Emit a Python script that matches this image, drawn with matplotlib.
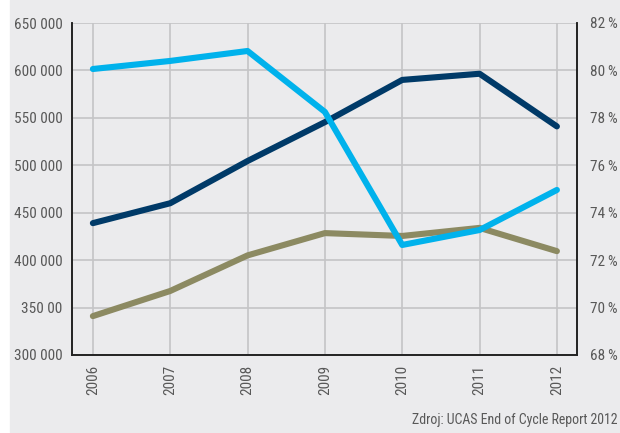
import matplotlib.pyplot as plt
from matplotlib.patches import Rectangle
from matplotlib.ticker import FixedLocator, FixedFormatter

years = [2006, 2007, 2008, 2009, 2010, 2011, 2012]
navy_vals = [439000, 460000, 504500, 545500, 590000, 596500, 541000]
olive_vals = [341000, 367500, 405000, 428500, 425500, 434000, 409500]
blue_pct = [80.06, 80.40, 80.82, 78.25, 72.64, 73.27, 74.96]

left_ticks = [300000, 350000, 400000, 450000, 500000, 550000, 600000, 650000]
left_labels = ["300 000", "350 00", "400 000", "450 000", "500 000",
               "550 000", "600 000", "650 000"]
right_ticks = [68, 70, 72, 74, 76, 78, 80, 82]
right_labels = [f"{t}\u2009%" for t in right_ticks]
source = "Zdroj: UCAS End of Cycle Report 2012"

plt.rcParams['font.family'] = ['Roboto Condensed', 'Liberation Sans Narrow',
                               'Roboto', 'DejaVu Sans']

bg = '#ebebed'
txt = '#585858'
grid_c = '#c4c4c6'

fig = plt.figure(figsize=(6.2, 4.33), dpi=100)
fig.patch.set_facecolor('white')
fig.patches.append(Rectangle((10 / 620, 1 / 433), 610 / 620, 432 / 433,
                             transform=fig.transFigure, color=bg, zorder=-10))

ax = fig.add_axes([72 / 620, 1 - 355 / 433, 505 / 620, 332 / 433])
ax.set_facecolor(bg)
ax2 = ax.twinx()

ax.plot(years, navy_vals, color='#003a68', lw=4.4, solid_capstyle='round', zorder=3)
ax.plot(years, olive_vals, color='#8c8a62', lw=4.4, solid_capstyle='round', zorder=3)
ax2.plot(years, blue_pct, color='#00b2ec', lw=4.4, solid_capstyle='round', zorder=3)

ax.set_xlim(2005.73, 2012.26)
ax.set_ylim(300000, 650000)
ax2.set_ylim(68, 82)

ax.yaxis.set_major_locator(FixedLocator(left_ticks))
ax.yaxis.set_major_formatter(FixedFormatter(left_labels))
ax2.yaxis.set_major_locator(FixedLocator(right_ticks))
ax2.yaxis.set_major_formatter(FixedFormatter(right_labels))
ax.set_xticks(years)
ax.set_xticklabels([str(y) for y in years], rotation=90)

ax.grid(True, color=grid_c, lw=1.2, zorder=0)
ax.set_axisbelow(True)

for a in (ax, ax2):
    a.tick_params(length=0, labelsize=11, labelcolor=txt)
    for s in a.spines.values():
        s.set_color('#222222')
        s.set_linewidth(1.2)
    a.spines['top'].set_visible(False)
ax.tick_params(axis='y', pad=7)
ax.tick_params(axis='x', pad=7)
ax2.tick_params(axis='y', pad=9)

fig.text(617 / 620, 1 - 420 / 433, source, ha='right', va='center',
         fontsize=10, color=txt)

fig.savefig('out.png', dpi=100, facecolor=fig.get_facecolor())
